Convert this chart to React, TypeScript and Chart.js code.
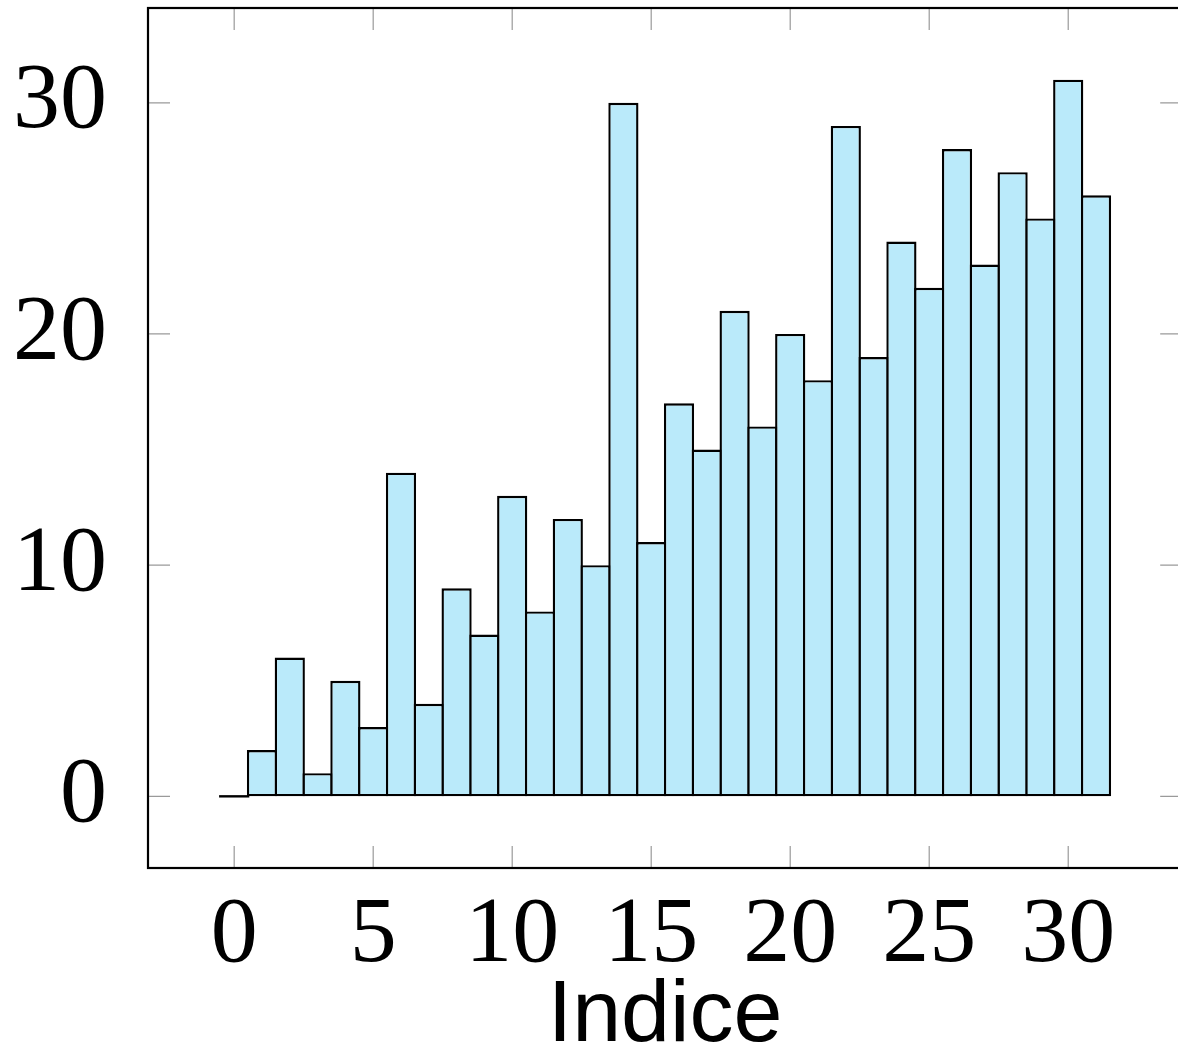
import React, { useEffect, useRef } from "react";
import { Chart, registerables } from "chart.js";

Chart.register(...registerables);

const indices = [0, 1, 2, 3, 4, 5, 6, 7, 8, 9, 10, 11, 12, 13, 14, 15, 16, 17, 18, 19, 20, 21, 22, 23, 24, 25, 26, 27, 28, 29, 30, 31];
const values = [0, 2, 6, 1, 5, 3, 14, 4, 9, 7, 13, 8, 12, 10, 30, 11, 17, 15, 21, 16, 20, 18, 29, 19, 24, 22, 28, 23, 27, 25, 31, 26];
const xTicks = [0, 5, 10, 15, 20, 25, 30];
const yTicks = [0, 10, 20, 30];
const xLabel = "Indice";

const BAR_FILL = "rgb(186,234,250)";

const framePlugin = {
  id: "pgfFrame",
  afterDatasetsDraw(chart: any) {
    const { ctx, chartArea: a, scales } = chart;
    ctx.save();
    // zero-height bars drawn as a line
    const meta = chart.getDatasetMeta(0);
    ctx.strokeStyle = "#000";
    ctx.lineWidth = 2.4;
    meta.data.forEach((el: any, i: number) => {
      if (values[i] === 0) {
        const { x, y, width } = el.getProps(["x", "y", "width"], true);
        ctx.beginPath();
        ctx.moveTo(x - width / 2, y);
        ctx.lineTo(x + width / 2, y);
        ctx.stroke();
      }
    });
    // inner tick marks
    ctx.strokeStyle = "#9a9a9a";
    ctx.lineWidth = 1.2;
    const L = 22;
    xTicks.forEach((v) => {
      const px = scales.x.getPixelForValue(v);
      ctx.beginPath();
      ctx.moveTo(px, a.top);
      ctx.lineTo(px, a.top + L);
      ctx.moveTo(px, a.bottom);
      ctx.lineTo(px, a.bottom - L);
      ctx.stroke();
    });
    yTicks.forEach((v) => {
      const py = scales.y.getPixelForValue(v);
      ctx.beginPath();
      ctx.moveTo(a.left, py);
      ctx.lineTo(a.left + L, py);
      ctx.moveTo(a.right, py);
      ctx.lineTo(a.right - L, py);
      ctx.stroke();
    });
    // frame
    ctx.strokeStyle = "#000";
    ctx.lineWidth = 2.2;
    ctx.strokeRect(a.left, a.top, a.right - a.left, a.bottom - a.top);
    ctx.restore();
  },
};

export default function App() {
  const ref = useRef<HTMLCanvasElement | null>(null);

  useEffect(() => {
    if (!ref.current) return;
    const chart = new Chart(ref.current, {
      type: "bar",
      data: {
        datasets: [
          {
            data: indices.map((x, i) => ({ x, y: values[i] })),
            backgroundColor: BAR_FILL,
            borderColor: "#000",
            borderWidth: 2.4,
            borderSkipped: false,
            barPercentage: 1.086,
            categoryPercentage: 1,
          },
        ],
      },
      options: {
        animation: false,
        responsive: false,
        devicePixelRatio: 1,
        layout: { padding: { top: 8, right: 7.8, left: 0, bottom: 0 } },
        plugins: { legend: { display: false }, tooltip: { enabled: false } },
        scales: {
          x: {
            type: "linear",
            min: -3.1,
            max: 34.1,
            offset: false,
            grid: { display: false },
            border: { display: false },
            afterBuildTicks: (s: any) => {
              s.ticks = xTicks.map((v) => ({ value: v }));
            },
            afterFit: (s: any) => {
              s.height = 184;
              s.paddingLeft = 0;
              s.paddingRight = 0;
            },
            ticks: {
              color: "#000",
              autoSkip: false,
              maxRotation: 0,
              padding: 4,
              font: { family: "'Liberation Serif'", size: 94 },
            },
            title: {
              display: true,
              text: xLabel,
              color: "#000",
              padding: { top: 0, bottom: -4 },
              font: { family: "'Liberation Sans'", size: 88, lineHeight: 0.9 },
            },
          },
          y: {
            type: "linear",
            min: -3.1,
            max: 34.1,
            grid: { display: false },
            border: { display: false },
            afterBuildTicks: (s: any) => {
              s.ticks = yTicks.map((v) => ({ value: v }));
            },
            afterFit: (s: any) => {
              s.width = 148;
              s.paddingTop = 0;
              s.paddingBottom = 0;
            },
            ticks: {
              color: "#000",
              padding: 33,
              font: { family: "'Liberation Serif'", size: 94 },
            },
          },
        },
      },
      plugins: [framePlugin],
    });
    return () => chart.destroy();
  }, []);

  return (
    <div style={{ position: "fixed", left: 0, top: 0, width: 1178, height: 1052, overflow: "hidden", background: "#fff" }}>
      <canvas ref={ref} width={1190} height={1052} style={{ display: "block" }} />
    </div>
  );
}
